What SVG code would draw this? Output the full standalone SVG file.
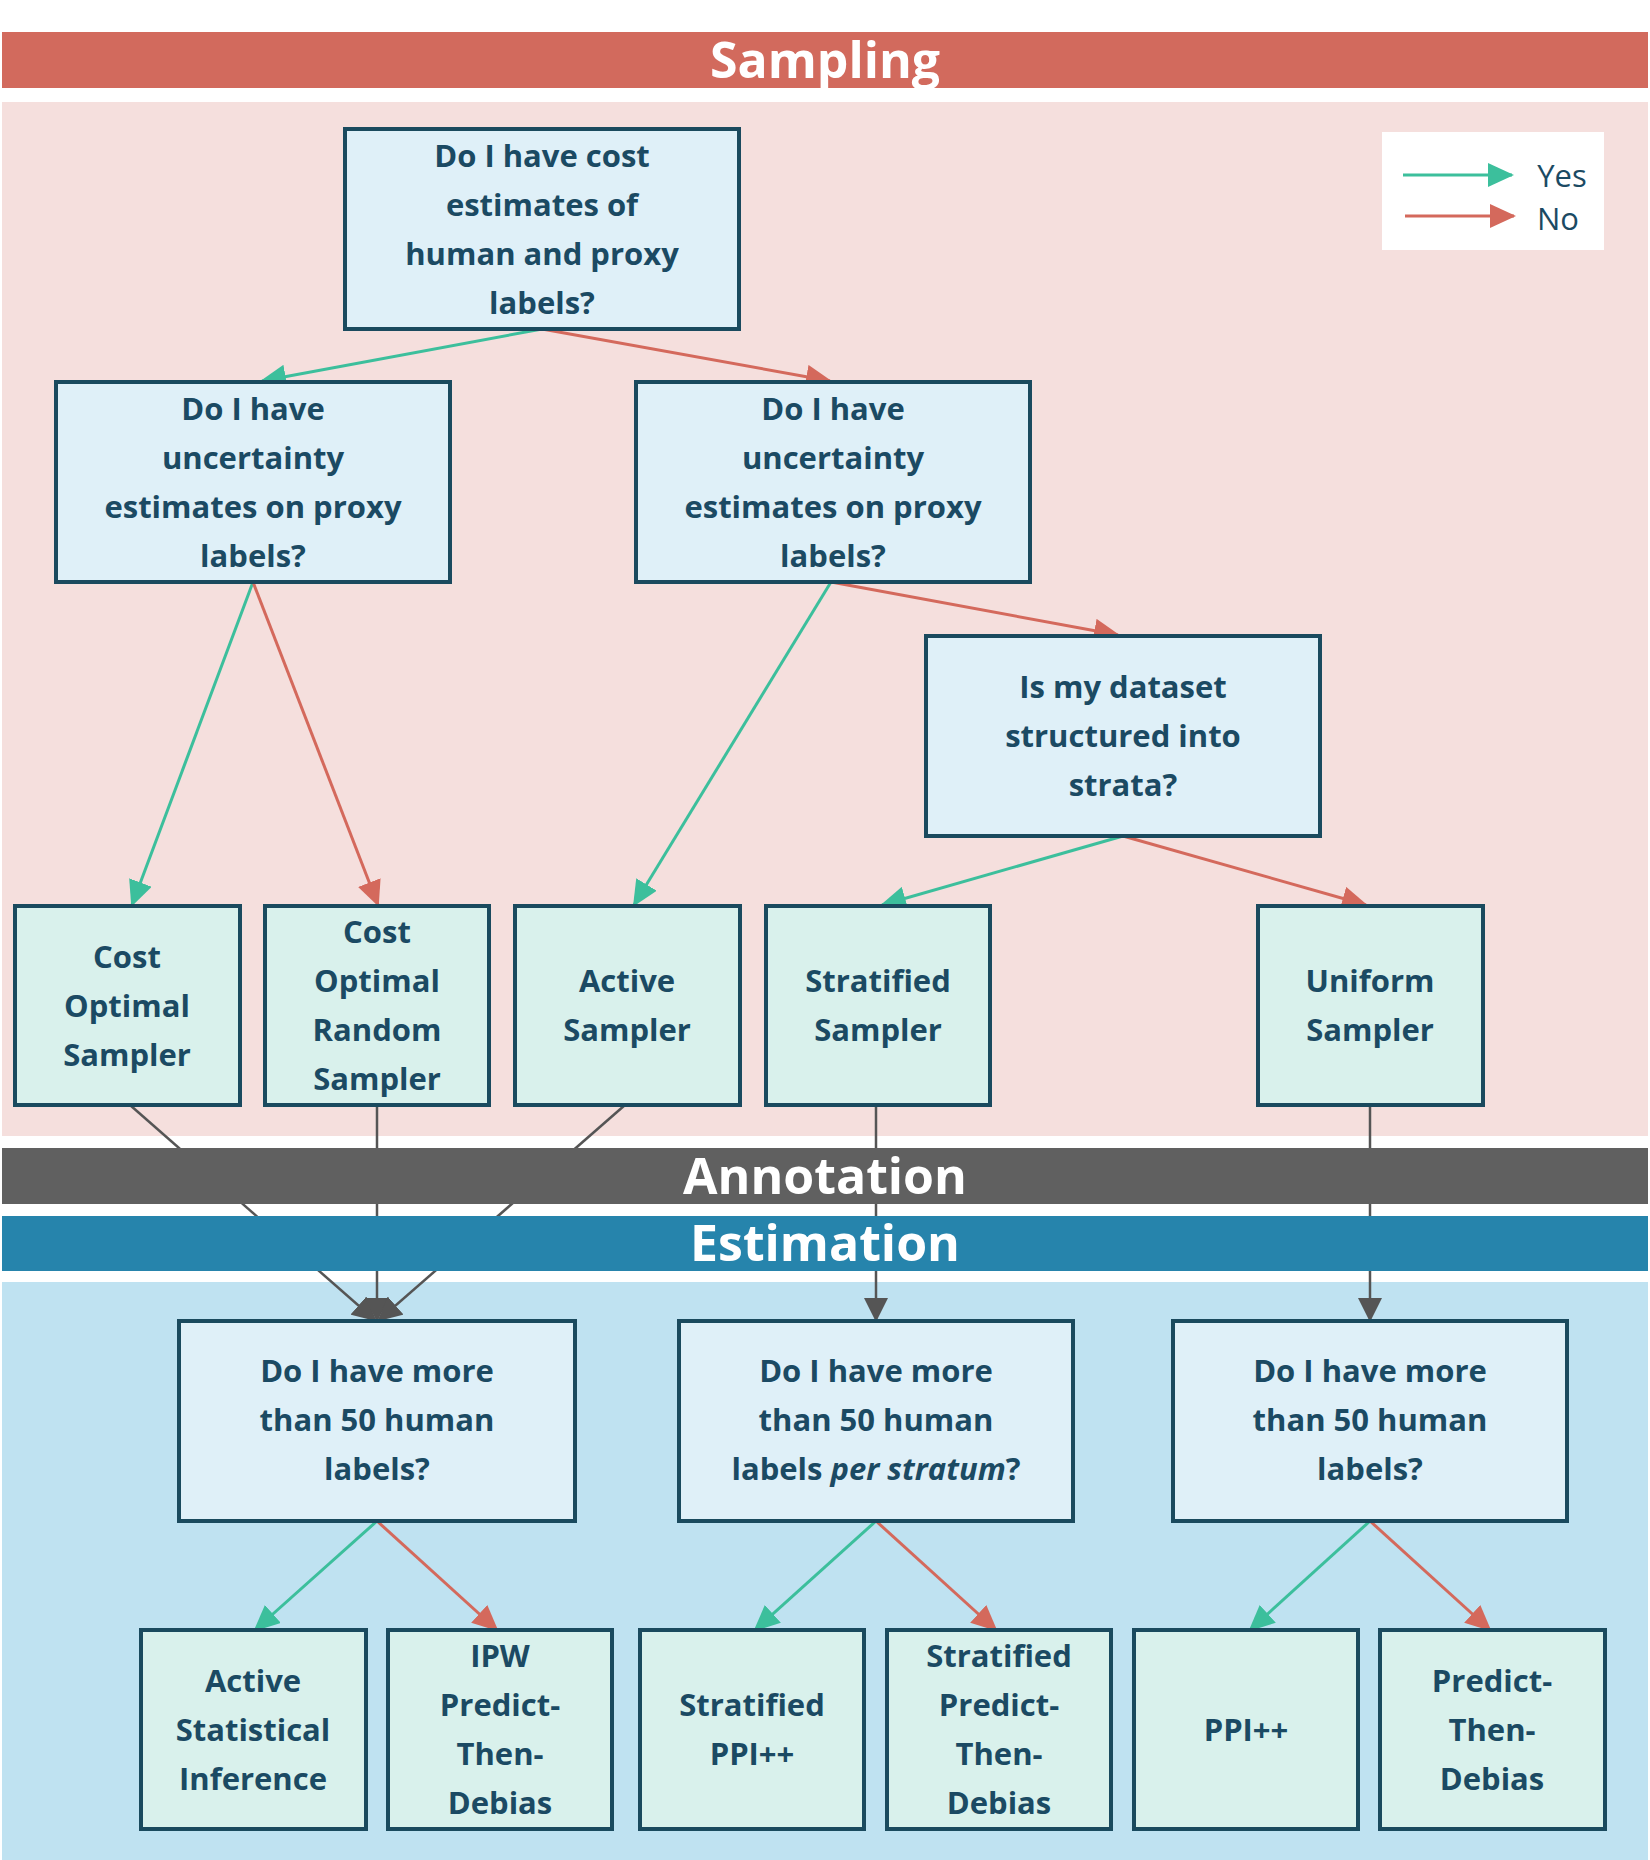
<svg xmlns="http://www.w3.org/2000/svg" width="1650" height="1860" viewBox="0 0 1650 1860">
<style>
.q{fill:#dff0f8;stroke:#1a4a5e;stroke-width:4}
.l{fill:#d9f1ec;stroke:#1a4a5e;stroke-width:4}
text{font-family:"Open Sans","Noto Sans",sans-serif;font-weight:700;fill:#1b4a63;font-size:31px;text-anchor:middle}
.band{fill:#fff;font-size:50px}
.g{stroke:#3cbf9c;stroke-width:3;fill:none}
.r{stroke:#d4695c;stroke-width:3;fill:none}
.k{stroke:#555;stroke-width:2.5;fill:none}
</style>
<defs>
<marker id="mg" markerUnits="userSpaceOnUse" markerWidth="26" markerHeight="24" refX="24" refY="12" orient="auto"><path d="M0,0L26,12L0,24z" fill="#3cbf9c"/></marker>
<marker id="mr" markerUnits="userSpaceOnUse" markerWidth="26" markerHeight="24" refX="24" refY="12" orient="auto"><path d="M0,0L26,12L0,24z" fill="#d4695c"/></marker>
<marker id="mk" markerUnits="userSpaceOnUse" markerWidth="24" markerHeight="24" refX="22" refY="12" orient="auto"><path d="M0,0L24,12L0,24z" fill="#555"/></marker>
</defs>
<rect width="1650" height="1860" fill="#fff"/>
<rect x="2" y="102" width="1646" height="1034" fill="#f5dfdd"/>
<rect x="2" y="1282" width="1646" height="578" fill="#bfe2f1"/>
<g id="connectors">
<line class="g" x1="542" y1="329" x2="262" y2="381" marker-end="url(#mg)"/>
<line class="r" x1="542" y1="329" x2="830" y2="381" marker-end="url(#mr)"/>
<line class="g" x1="253" y1="582" x2="132" y2="905" marker-end="url(#mg)"/>
<line class="r" x1="253" y1="582" x2="378" y2="905" marker-end="url(#mr)"/>
<line class="g" x1="831" y1="582" x2="634" y2="905" marker-end="url(#mg)"/>
<line class="r" x1="831" y1="582" x2="1118" y2="635" marker-end="url(#mr)"/>
<line class="g" x1="1123" y1="836" x2="882" y2="905" marker-end="url(#mg)"/>
<line class="r" x1="1123" y1="836" x2="1366" y2="905" marker-end="url(#mr)"/>
<line class="k" x1="130" y1="1105" x2="375" y2="1320" marker-end="url(#mk)"/>
<line class="k" x1="377" y1="1105" x2="377" y2="1320" marker-end="url(#mk)"/>
<line class="k" x1="625" y1="1105" x2="379" y2="1320" marker-end="url(#mk)"/>
<line class="k" x1="876" y1="1105" x2="876" y2="1320" marker-end="url(#mk)"/>
<line class="k" x1="1370" y1="1105" x2="1370" y2="1320" marker-end="url(#mk)"/>
<line class="g" x1="377" y1="1521" x2="255" y2="1630" marker-end="url(#mg)"/>
<line class="r" x1="377" y1="1521" x2="497" y2="1630" marker-end="url(#mr)"/>
<line class="g" x1="876" y1="1521" x2="755" y2="1630" marker-end="url(#mg)"/>
<line class="r" x1="876" y1="1521" x2="996" y2="1630" marker-end="url(#mr)"/>
<line class="g" x1="1370" y1="1521" x2="1250" y2="1630" marker-end="url(#mg)"/>
<line class="r" x1="1370" y1="1521" x2="1490" y2="1630" marker-end="url(#mr)"/>
</g>
<g id="bands">
<rect x="2" y="32" width="1646" height="56" fill="#d26a5d"/>
<text class="band" x="825" y="78">Sampling</text>
<rect x="2" y="1148" width="1646" height="56" fill="#606060"/>
<text class="band" x="825" y="1194">Annotation</text>
<rect x="2" y="1216" width="1646" height="55" fill="#2684ac"/>
<text class="band" x="825" y="1261">Estimation</text>
</g>
<g id="legend">
<rect x="1382" y="132" width="222" height="118" fill="#fff"/>
<line class="g" x1="1403" y1="175" x2="1512" y2="175" marker-end="url(#mg)"/>
<line class="r" x1="1405" y1="216" x2="1514" y2="216" marker-end="url(#mr)"/>
<text x="1562" y="187" style="font-weight:400">Yes</text>
<text x="1558" y="230" style="font-weight:400">No</text>
</g>
<g id="n1"><rect class="q" x="345" y="129" width="394" height="200"/><text x="542" y="167">Do I have cost</text><text x="542" y="216">estimates of</text><text x="542" y="265">human and proxy</text><text x="542" y="314">labels?</text></g>
<g id="n2"><rect class="q" x="56" y="382" width="394" height="200"/><text x="253" y="420">Do I have</text><text x="253" y="469">uncertainty</text><text x="253" y="518">estimates on proxy</text><text x="253" y="567">labels?</text></g>
<g id="n3"><rect class="q" x="636" y="382" width="394" height="200"/><text x="833" y="420">Do I have</text><text x="833" y="469">uncertainty</text><text x="833" y="518">estimates on proxy</text><text x="833" y="567">labels?</text></g>
<g id="n4"><rect class="q" x="926" y="636" width="394" height="200"/><text x="1123" y="698">Is my dataset</text><text x="1123" y="747">structured into</text><text x="1123" y="796">strata?</text></g>
<g id="n5"><rect class="l" x="15" y="906" width="225" height="199"/><text x="127" y="968">Cost</text><text x="127" y="1017">Optimal</text><text x="127" y="1066">Sampler</text></g>
<g id="n6"><rect class="l" x="265" y="906" width="224" height="199"/><text x="377" y="943">Cost</text><text x="377" y="992">Optimal</text><text x="377" y="1041">Random</text><text x="377" y="1090">Sampler</text></g>
<g id="n7"><rect class="l" x="515" y="906" width="225" height="199"/><text x="627" y="992">Active</text><text x="627" y="1041">Sampler</text></g>
<g id="n8"><rect class="l" x="766" y="906" width="224" height="199"/><text x="878" y="992">Stratified</text><text x="878" y="1041">Sampler</text></g>
<g id="n9"><rect class="l" x="1258" y="906" width="225" height="199"/><text x="1370" y="992">Uniform</text><text x="1370" y="1041">Sampler</text></g>
<g id="n10"><rect class="q" x="179" y="1321" width="396" height="200"/><text x="377" y="1382">Do I have more</text><text x="377" y="1431">than 50 human</text><text x="377" y="1480">labels?</text></g>
<g id="n11"><rect class="q" x="679" y="1321" width="394" height="200"/><text x="876" y="1382">Do I have more</text><text x="876" y="1431">than 50 human</text><text x="876" y="1480">labels <tspan font-style="italic">per stratum</tspan>?</text></g>
<g id="n12"><rect class="q" x="1173" y="1321" width="394" height="200"/><text x="1370" y="1382">Do I have more</text><text x="1370" y="1431">than 50 human</text><text x="1370" y="1480">labels?</text></g>
<g id="n13"><rect class="l" x="141" y="1630" width="225" height="199"/><text x="253" y="1692">Active</text><text x="253" y="1741">Statistical</text><text x="253" y="1790">Inference</text></g>
<g id="n14"><rect class="l" x="388" y="1630" width="224" height="199"/><text x="500" y="1667">IPW</text><text x="500" y="1716">Predict-</text><text x="500" y="1765">Then-</text><text x="500" y="1814">Debias</text></g>
<g id="n15"><rect class="l" x="640" y="1630" width="224" height="199"/><text x="752" y="1716">Stratified</text><text x="752" y="1765">PPI++</text></g>
<g id="n16"><rect class="l" x="887" y="1630" width="224" height="199"/><text x="999" y="1667">Stratified</text><text x="999" y="1716">Predict-</text><text x="999" y="1765">Then-</text><text x="999" y="1814">Debias</text></g>
<g id="n17"><rect class="l" x="1134" y="1630" width="224" height="199"/><text x="1246" y="1741">PPI++</text></g>
<g id="n18"><rect class="l" x="1380" y="1630" width="225" height="199"/><text x="1492" y="1692">Predict-</text><text x="1492" y="1741">Then-</text><text x="1492" y="1790">Debias</text></g>
</svg>
